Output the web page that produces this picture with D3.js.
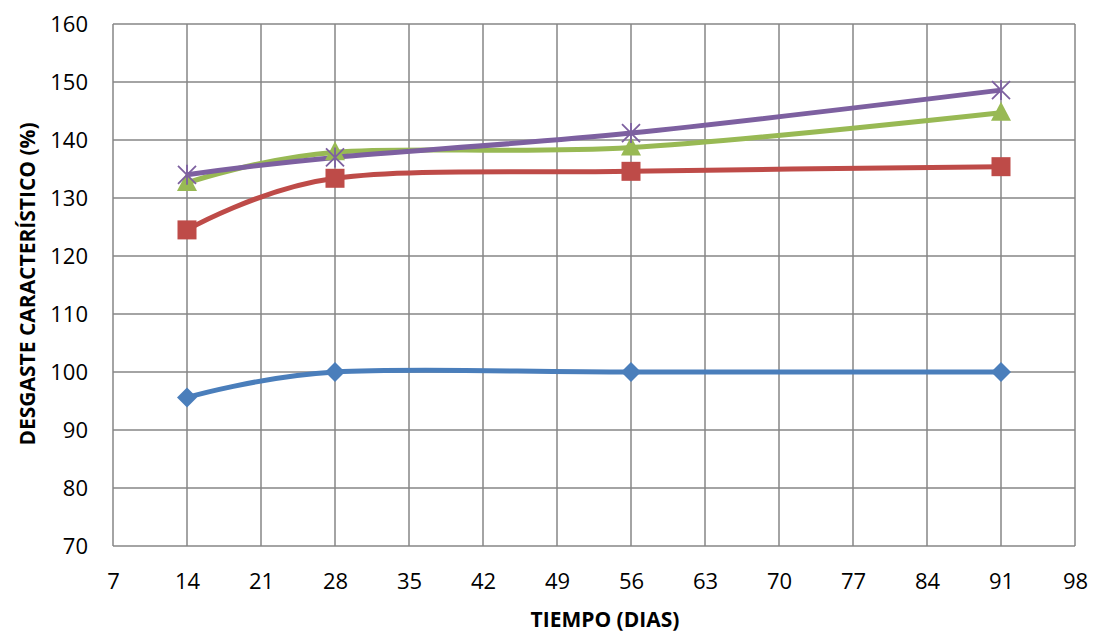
<!DOCTYPE html>
<meta charset="utf-8">
<style>
body { margin: 0; background: #fff; font-family: "Open Sans", "Liberation Sans", sans-serif; }
.grid line { stroke: #868686; stroke-width: 1.5px; }
.tick text { font-size: 22px; fill: #000; }
.title { font-size: 21px; font-weight: bold; fill: #000; }
</style>
<body>
<script src="https://d3js.org/d3.v7.min.js"></script>
<script>
// data
var days = [14, 28, 56, 91];
var xTicks = [7, 14, 21, 28, 35, 42, 49, 56, 63, 70, 77, 84, 91, 98];
var yTicks = [70, 80, 90, 100, 110, 120, 130, 140, 150, 160];
var serieAzul = [95.6, 100, 100, 100];
var serieRoja = [124.5, 133.4, 134.6, 135.4];
var serieVerde = [132.6, 137.9, 138.7, 144.7];
var serieMorada = [134.0, 137.0, 141.2, 148.6];

var series = [
  {vals: serieAzul, color: "#4A7EBB", marker: "diamond"},
  {vals: serieRoja, color: "#BE4B48", marker: "square"},
  {vals: serieVerde, color: "#98B954", marker: "triangle"},
  {vals: serieMorada, color: "#7D60A0", marker: "star"}
];

var W = 1096, H = 635;
var svg = d3.select("body").append("svg").attr("width", W).attr("height", H);

var x = d3.scaleLinear().domain([7, 98]).range([113, 1075]);
var y = d3.scaleLinear().domain([70, 160]).range([546, 24]);

// grid
var grid = svg.append("g").attr("class", "grid");
grid.selectAll(".v").data(xTicks).enter().append("line")
  .attr("x1", d => x(d)).attr("x2", d => x(d)).attr("y1", y(70)).attr("y2", y(160));
grid.selectAll(".h").data(yTicks).enter().append("line")
  .attr("y1", d => y(d)).attr("y2", d => y(d)).attr("x1", x(7)).attr("x2", x(98));

// axes (labels only)
var ax = svg.append("g").attr("transform", "translate(0," + y(70) + ")")
  .call(d3.axisBottom(x).tickValues(xTicks).tickSize(0).tickPadding(27));
ax.select(".domain").remove();
var ay = svg.append("g").attr("transform", "translate(" + x(7) + ",0)")
  .call(d3.axisLeft(y).tickValues(yTicks).tickSize(0).tickPadding(25));
ay.select(".domain").remove();
svg.selectAll(".tick text").attr("font-family", "'Open Sans', sans-serif");

// titles
svg.append("text").attr("class", "title").attr("x", 605).attr("y", 627)
  .attr("text-anchor", "middle").text("TIEMPO (DIAS)");
svg.append("text").attr("class", "title")
  .attr("transform", "translate(35,284) rotate(-90)")
  .attr("text-anchor", "middle").text("DESGASTE CARACTERÍSTICO (%)");

var line = d3.line().x((d, i) => x(days[i])).y(d => y(d)).curve(d3.curveCardinal.tension(0));

series.forEach(function(s) {
  svg.append("path").datum(s.vals).attr("d", line)
    .attr("fill", "none").attr("stroke", s.color).attr("stroke-width", 5)
    .attr("stroke-linejoin", "round");
});

series.forEach(function(s) {
  var g = svg.append("g");
  s.vals.forEach(function(v, i) {
    var cx = x(days[i]), cy = y(v);
    if (s.marker == "diamond") {
      g.append("path").attr("d", "M0,-10L10,0L0,10L-10,0Z")
        .attr("transform", "translate(" + cx + "," + cy + ")").attr("fill", s.color);
    } else if (s.marker == "square") {
      g.append("rect").attr("x", cx - 9.5).attr("y", cy - 9.5).attr("width", 19).attr("height", 19)
        .attr("fill", s.color);
    } else if (s.marker == "triangle") {
      g.append("path").attr("d", "M0,-11L10,8L-10,8Z")
        .attr("transform", "translate(" + cx + "," + cy + ")").attr("fill", s.color);
    } else {
      g.append("path").attr("d", "M-9,-9L9,9M-9,9L9,-9M0,-10L0,10")
        .attr("transform", "translate(" + cx + "," + cy + ")")
        .attr("stroke", s.color).attr("stroke-width", 1.8).attr("fill", "none");
    }
  });
});
</script>
</body>
